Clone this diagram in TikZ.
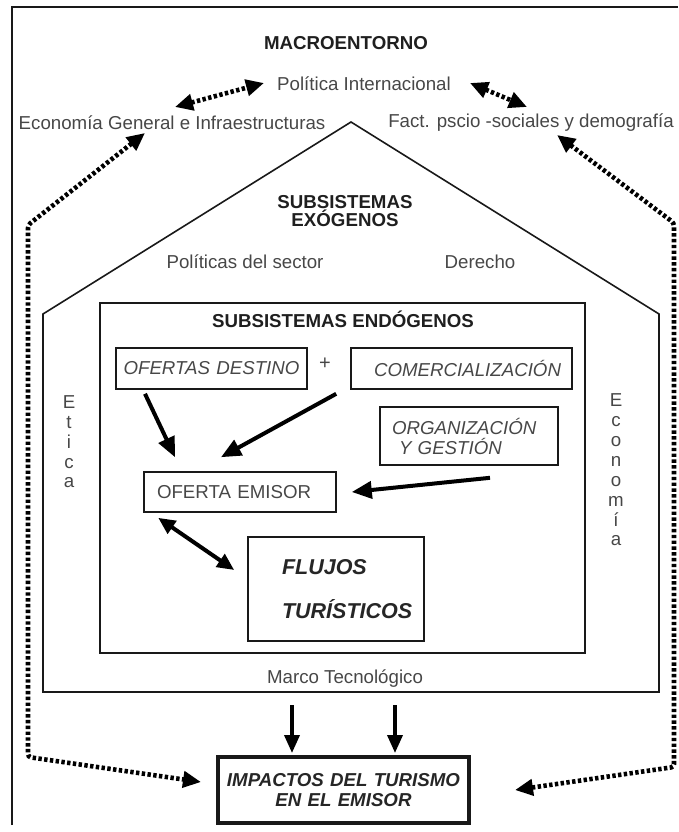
\documentclass[tikz,border=0pt]{standalone}
\usepackage{fontspec}
\setmainfont{Liberation Sans}
\usetikzlibrary{arrows.meta,calc}
\tikzset{
  txt/.style={font=\fontsize{18.7}{22}\selectfont, text=black!72, inner sep=0pt},
  btxt/.style={font=\fontsize{18.7}{22}\selectfont\bfseries, text=black!88, inner sep=0pt},
  frame/.style={line width=1.5pt, draw=black!90},
  house/.style={line width=1.6pt, draw=black!90},
  box/.style={draw=black!90, line width=1.6pt, inner sep=0pt, align=left,
    font=\fontsize{18.7}{22}\selectfont\itshape, text=black!72},
  arr/.style={line width=4pt, -{Triangle[length=20pt,width=17pt]}},
  arrdown/.style={line width=3.6pt, -{Triangle[length=18pt,width=15pt]}},
  darr/.style={line width=4pt, {Triangle[length=17pt,width=15pt]}-{Triangle[length=17pt,width=15pt]}},
  dotarr/.style={line width=4.6pt, dash pattern=on 3.4pt off 2.4pt,
    {Triangle[length=18pt,width=16pt]}-{Triangle[length=18pt,width=16pt]}}
}
\begin{document}
\begin{tikzpicture}[x=1pt,y=-1pt]
\useasboundingbox (0,0) rectangle (678,832);
\draw[frame] (12,825) -- (12,7) -- (678,7);

% macroentorno
\node[btxt] (macro) at (346,43) {MACROENTORNO};
\node[txt] (polint) at (364,84) {Política Internacional};
\node[txt] (econ) at (172,123) {Economía General e Infraestructuras};
\node[txt] (fact) at (531,123) {Fact. pscio -sociales y demografía};

% house (subsistemas exogenos)
\draw[house] (351,122) -- (659,314) -- (659,692) -- (43,692) -- (43,314) -- cycle;
\coordinate (hb) at (343.5,692);
\node[btxt, align=center, font=\fontsize{18.7}{18}\selectfont\bfseries] (exo) at (345,211) {SUBSISTEMAS\\EXÓGENOS};
\node[txt] (polsec) at (245,262) {Políticas del sector};
\node[txt] (derecho) at (480,262) {Derecho};
\node[txt, align=center, font=\fontsize{18.7}{19.75}\selectfont] (etica) at (69,442) {E\\t\\i\\c\\a};
\node[txt, align=center, font=\fontsize{18.7}{19.9}\selectfont] (econom) at (616,470) {E\\c\\o\\n\\o\\m\\í\\a};
\node[txt] (marco) at (345,679) {Marco Tecnológico};

% endogenos
\draw[house] (100,303) rectangle (585,653);
\node[btxt] (endotit) at (343,319) {SUBSISTEMAS ENDÓGENOS};
\node[box, text width=191pt, minimum height=41pt, align=center] (ofdest) at (211.5,368.5) {OFERTAS DESTINO};
\node[txt, font=\fontsize{20}{22}\selectfont] (plus) at (325,364) {+};
\node[box, text width=221pt, minimum height=41pt] (comer) at (461.5,368.5) {\hspace*{23pt}COMERCIALIZACIÓN};
\node[box, text width=178pt, minimum height=58pt, font=\fontsize{18.7}{20}\selectfont\itshape] (organ) at (469,436) {\hspace*{12pt}ORGANIZACIÓN\\\hspace*{19pt}Y GESTIÓN};
\node[box, text width=192pt, minimum height=40pt, font=\fontsize{18.7}{22}\selectfont] (emisor) at (240,492) {\hspace*{13pt}OFERTA EMISOR};
\node[box, text width=176pt, minimum height=104pt, font=\fontsize{21.5}{44}\selectfont\bfseries\itshape, text=black!85] (flujos) at (336,589) {\hspace*{34pt}FLUJOS\\\hspace*{34pt}TURÍSTICOS};

% impactos
\node[box, line width=4pt, text width=251pt, minimum height=66pt, align=center,
  font=\fontsize{18.7}{19.5}\selectfont\bfseries\itshape, text=black!85] (impactos) at (343.5,790) {IMPACTOS DEL TURISMO\\EN EL EMISOR};

% solid arrows
\draw[arr] ($(ofdest.south)+(-66.5,4)$) -- ($(emisor.north)+(-65,-14)$);
\draw[arr] ($(comer.south west)+(-14,4)$) -- ($(emisor.north)+(-19,-14)$);
\draw[arr] ($(organ.south)+(21,12)$) -- ($(emisor.east)+(15,0)$);
\draw[darr] ($(emisor.south west)+(15,5)$) -- ($(flujos.west)+(-13,-19)$);
\draw[arrdown] ($(hb)+(-51.5,13)$) -- ($(impactos.north)+(-51.5,-2)$);
\draw[arrdown] ($(hb)+(51.5,13)$) -- ($(impactos.north)+(51.5,-2)$);

% dotted arrows
\draw[dotarr] ($(econ)+(3,-16)$) -- ($(polint)+(-100,-1)$);
\draw[dotarr] ($(polint)+(106,-1)$) -- ($(fact)+(-4,-16)$);
\draw[dotarr, rounded corners=3pt] ($(econ)+(-27,10)$) -- (28,225) -- (28,757) -- ($(impactos.west)+(-15,-8)$);
\draw[dotarr, rounded corners=3pt] ($(fact)+(26,12)$) -- (674,223) -- (674,767) -- ($(impactos.east)+(44,0)$);
\end{tikzpicture}
\end{document}
